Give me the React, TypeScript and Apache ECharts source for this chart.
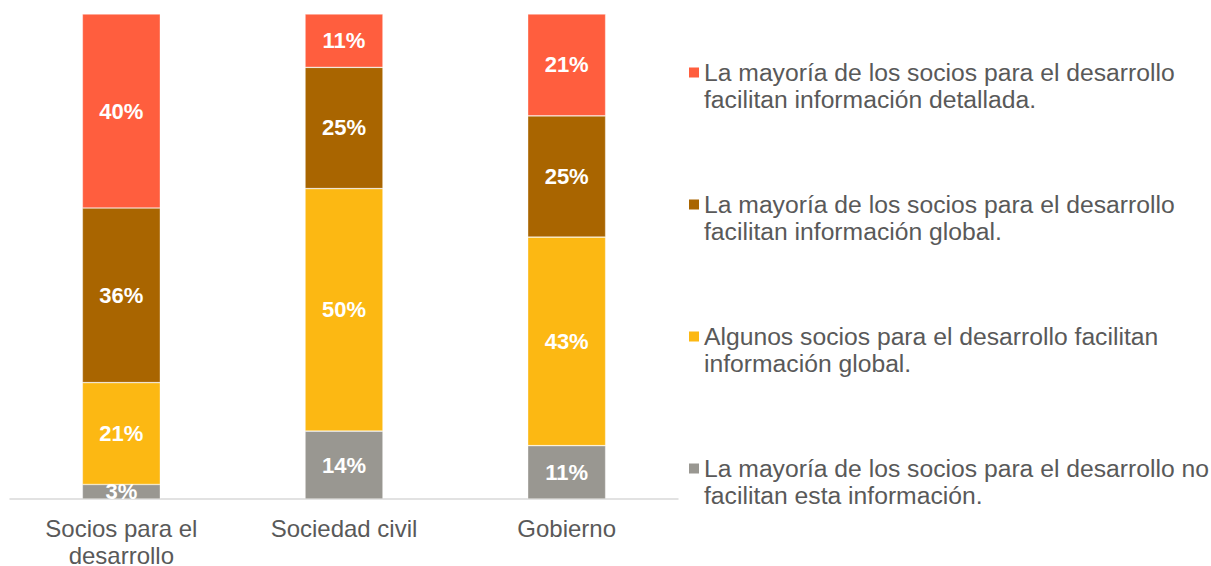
import React, { useEffect, useRef } from "react";
import * as echarts from "echarts";

const categories = ["Socios para el\ndesarrollo", "Sociedad civil", "Gobierno"];
const seriesNames = [
  "La mayoría de los socios para el desarrollo no\nfacilitan esta información.",
  "Algunos socios para el desarrollo facilitan\ninformación global.",
  "La mayoría de los socios para el desarrollo\nfacilitan información global.",
  "La mayoría de los socios para el desarrollo\nfacilitan información detallada.",
];
const noFacilitan = [3, 14, 11];
const algunosGlobal = [21, 50, 43];
const mayoriaGlobal = [36, 25, 25];
const mayoriaDetallada = [40, 11, 21];
const colors = ["#999791", "#FCB813", "#A96500", "#FF5E3E"];

export default function App() {
  const ref = useRef<HTMLDivElement>(null);
  useEffect(() => {
    if (!ref.current) return;
    const chart = echarts.init(ref.current, null, { renderer: "svg" });
    const values = [noFacilitan, algunosGlobal, mayoriaGlobal, mayoriaDetallada];
    const font = "'Liberation Sans', Arial, sans-serif";
    chart.setOption({
      animation: false,
      grid: { left: 10, right: 533, top: 14, bottom: 67, outerBoundsMode: "none", containLabel: false },
      xAxis: {
        type: "category",
        data: categories,
        axisLine: { lineStyle: { color: "#D9D9D9", width: 1.5 } },
        axisTick: { show: false },
        axisLabel: {
          color: "#595959",
          fontSize: 24,
          lineHeight: 27,
          fontFamily: font,
          margin: 16,
          interval: 0,
        },
      },
      yAxis: { type: "value", min: 0, max: 100, show: false, splitLine: { show: false } },
      legend: {
        orient: "vertical",
        left: 684,
        top: 54,
        itemWidth: 10,
        itemHeight: 37,
        itemGap: 78,
        icon: "path://M0,0L10,0L10,10L0,10Z M0,37L10,37",
        data: [seriesNames[3], seriesNames[2], seriesNames[1], seriesNames[0]],
        itemStyle: { borderWidth: 0 },
        textStyle: {
          color: "#595959",
          fontSize: 24.7,
          lineHeight: 27,
          fontFamily: font,
        },
      },
      series: seriesNames.map((name, i) => ({
        name,
        type: "bar",
        stack: "total",
        barWidth: "35%",
        data: values[i],
        itemStyle: { color: colors[i], borderColor: "rgba(255,255,255,0.6)", borderWidth: 0.6 },
        label: {
          show: true,
          position: "inside",
          formatter: "{c}%",
          color: "#FFFFFF",
          fontWeight: "bold",
          fontSize: 22,
          fontFamily: font,
        },
      })),
    });
    return () => chart.dispose();
  }, []);
  return (
    <div
      ref={ref}
      style={{ position: "fixed", left: 0, top: 0, width: 1211, height: 566, background: "#fff" }}
    />
  );
}
